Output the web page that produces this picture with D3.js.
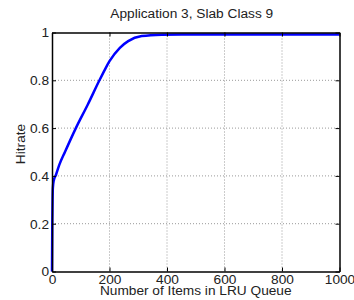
<!DOCTYPE html>
<html>
<head>
<meta charset="utf-8">
<script src="https://d3js.org/d3.v7.min.js"></script>
<style>
  body { margin: 0; background: #fff; }
  text { font-family: "Liberation Sans", Arial, sans-serif; fill: #222; }
</style>
</head>
<body>
<div id="chart"></div>
<script>
// hitrate curve
var itemCounts = [0, 1, 2, 3, 6, 14, 25, 45, 83, 125, 165, 184, 200, 236, 265, 312, 381, 450, 600, 800, 1000];
var hitrates   = [0, 0.2, 0.3, 0.35, 0.38, 0.405, 0.445, 0.50, 0.60, 0.70, 0.80, 0.845, 0.88, 0.936, 0.964, 0.985, 0.991, 0.992, 0.992, 0.992, 0.992];
var xTicks = [0, 200, 400, 600, 800, 1000];
var yTicks = [0, 0.2, 0.4, 0.6, 0.8, 1];

var data = itemCounts.map(function(d, i) { return {items: d, hit: hitrates[i]}; });

var margin = {top: 32.5, right: 14.5, bottom: 28.5, left: 52}
  , width = 354 - margin.left - margin.right
  , height = 300 - margin.top - margin.bottom;

var x = d3.scaleLinear().domain([0, 1000]).range([0, width]);
var y = d3.scaleLinear().domain([0, 1]).range([height, 0]);

var svg = d3.select('#chart').append('svg')
  .attr('width', 354)
  .attr('height', 300);

var main = svg.append('g')
  .attr('transform', 'translate(' + margin.left + ',' + margin.top + ')');

// grid
main.append('g').selectAll('line')
  .data(xTicks.slice(1, -1))
  .enter().append('line')
    .attr('x1', function(d) { return x(d); })
    .attr('x2', function(d) { return x(d); })
    .attr('y1', 0).attr('y2', height)
    .attr('stroke', '#999').attr('stroke-width', 1)
    .attr('stroke-dasharray', '1,2');

main.append('g').selectAll('line')
  .data(yTicks.slice(1, -1))
  .enter().append('line')
    .attr('y1', function(d) { return y(d); })
    .attr('y2', function(d) { return y(d); })
    .attr('x1', 0).attr('x2', width)
    .attr('stroke', '#999').attr('stroke-width', 1)
    .attr('stroke-dasharray', '1,2');

// the curve
var line = d3.line()
  .x(function(d) { return x(d.items); })
  .y(function(d) { return y(d.hit); })
  .curve(d3.curveMonotoneX);

main.append('path')
  .datum(data)
  .attr('fill', 'none')
  .attr('stroke', '#0000ff')
  .attr('stroke-width', 2.5)
  .attr('stroke-linejoin', 'round')
  .attr('d', line);

// axes, ticks inside like matlab
var xAxis = main.append('g')
  .attr('transform', 'translate(0,' + height + ')')
  .call(d3.axisBottom(x).tickValues(xTicks).tickSizeInner(-4).tickSizeOuter(0).tickPadding(3)
        .tickFormat(d3.format('d')));
var yAxis = main.append('g')
  .call(d3.axisLeft(y).tickValues(yTicks).tickSizeInner(-4).tickSizeOuter(0).tickPadding(3)
        .tickFormat(function(d) { return d === 0 || d === 1 ? d : d3.format('.1f')(d); }));
var xTop = main.append('g')
  .call(d3.axisTop(x).tickValues(xTicks).tickSizeInner(-4).tickSizeOuter(0).tickFormat(''));
var yRight = main.append('g')
  .attr('transform', 'translate(' + width + ',0)')
  .call(d3.axisRight(y).tickValues(yTicks).tickSizeInner(-4).tickSizeOuter(0).tickFormat(''));

[xAxis, yAxis, xTop, yRight].forEach(function(a) {
  a.select('.domain').attr('stroke', '#000').attr('stroke-width', 1.5);
  a.selectAll('.tick line').attr('stroke', '#000').attr('stroke-width', 1);
  a.selectAll('.tick text')
    .attr('font-family', '"Liberation Sans", Arial, sans-serif')
    .attr('font-size', '13.7px')
    .attr('fill', '#222');
});

// title and labels
svg.append('text')
  .attr('x', margin.left + width / 2 - 4)
  .attr('y', 18)
  .style('text-anchor', 'middle')
  .style('font-size', '13.7px')
  .text('Application 3, Slab Class 9');

svg.append('text')
  .attr('x', margin.left + width / 2)
  .attr('y', 295)
  .style('text-anchor', 'middle')
  .style('font-size', '13.7px')
  .text('Number of Items in LRU Queue');

svg.append('text')
  .attr('transform', 'translate(25,144) rotate(-90)')
  .style('text-anchor', 'middle')
  .style('font-size', '13.7px')
  .text('Hitrate');
</script>
</body>
</html>
